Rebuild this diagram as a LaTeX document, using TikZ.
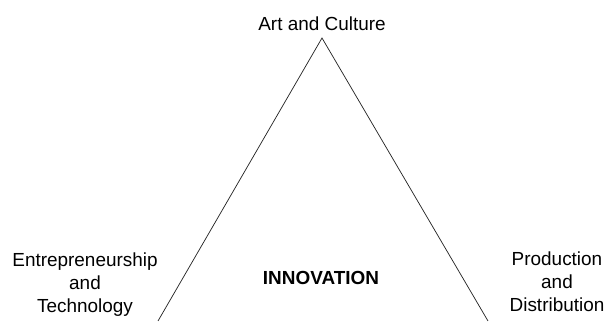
\documentclass[tikz,border=0pt]{standalone}
\usepackage{fontspec}
\setmainfont{Liberation Sans}
\begin{document}
\begin{tikzpicture}[x=0.75pt, y=-0.75pt,
        label/.style={font=\fontsize{14.2}{17.3}\selectfont, inner sep=0pt, align=center},
        side/.style={line width=0.55pt, black!85}]
            \useasboundingbox (0, 0) rectangle (611, 323);

            \coordinate (apex) at (322, 38);
            \coordinate (lfoot) at (158, 321);
            \coordinate (rfoot) at (488, 321);
            \draw[side] (lfoot) -- (apex) -- (rfoot);

            % base of a multi-line node sits on its last line
            \node[label, anchor=base] (art) at (322, 31) {Art and Culture};
            \node[label, anchor=base] (entre) at (85, 313) {Entrepreneurship\\and\\Technology};
            \node[label, anchor=base] (prod) at (557, 312) {Production\\and\\Distribution};
            \node[label, anchor=base, font=\fontsize{14.2}{17.3}\selectfont\bfseries] (innov) at (321, 285) {INNOVATION};
        \end{tikzpicture}
\end{document}
